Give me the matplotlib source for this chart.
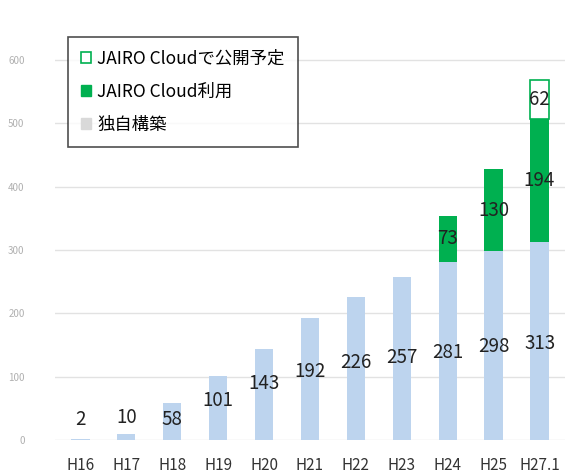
import numpy as np
import matplotlib
matplotlib.use("Agg")
import matplotlib.pyplot as plt
from matplotlib.patches import Patch

plt.rcParams['font.family'] = ['Noto Sans CJK JP', 'DejaVu Sans']

# データ
years = ["H16", "H17", "H18", "H19", "H20", "H21", "H22", "H23", "H24", "H25", "H27.1"]
own_built = [2, 10, 58, 101, 143, 192, 226, 257, 281, 298, 313]
jairo_used = [0, 0, 0, 0, 0, 0, 0, 0, 73, 130, 194]
jairo_planned = [0, 0, 0, 0, 0, 0, 0, 0, 0, 0, 62]
own_label_y = [32, 36, 32, 62, 89, 108, 123, 130, 138, 147, 153]

fig = plt.figure(figsize=(5.74, 4.73), dpi=100)
ax = fig.add_axes([0.096, 0.07, 0.888, 0.91])

x = np.arange(len(years))
w = 0.4
blue = "#bdd4ee"
green = "#00b050"

own = np.array(own_built)
used = np.array(jairo_used)
plan = np.array(jairo_planned)
m_used = used > 0
m_plan = plan > 0

ax.bar(x, own, w, color=blue, zorder=3)
ax.bar(x[m_used], used[m_used], w, bottom=own[m_used], color=green, zorder=3)
ax.bar(x[m_plan], plan[m_plan], w, bottom=(own + used)[m_plan], color="white",
       edgecolor=green, linewidth=1.2, zorder=3)

for i in range(len(x)):
    ax.text(x[i], own_label_y[i], str(own[i]), ha="center", va="center", fontsize=13.5, color="#222222", zorder=4)
    if used[i] > 0:
        ax.text(x[i], own[i] + used[i] / 2, str(used[i]), ha="center", va="center", fontsize=13.5, color="#222222", zorder=4)
    if plan[i] > 0:
        ax.text(x[i], own[i] + used[i] + plan[i] / 2, str(plan[i]), ha="center", va="center", fontsize=13.5, color="#222222", zorder=4)

ax.set_xlim(-0.55, len(x) - 0.45)
ax.set_ylim(0, 680)
ax.set_yticks(range(0, 700, 100))
ax.set_xticks(x)
ax.set_xticklabels(years, fontsize=11, color="#333333")
ax.tick_params(axis="x", length=0, pad=12)
ax.tick_params(axis="y", length=0, pad=22, labelsize=7, labelcolor="#b0b0b0")
ax.grid(axis="y", color="#e2e2e2", linewidth=1, zorder=0)
for s in ax.spines.values():
    s.set_visible(False)

handles = [
    Patch(facecolor="white", edgecolor=green, linewidth=1.2),
    Patch(facecolor=green, edgecolor=green),
    Patch(facecolor="#d9d9d9", edgecolor="#d9d9d9"),
]
labels = ["JAIRO Cloudで公開予定", "JAIRO Cloud利用", "独自構築"]
leg = ax.legend(handles, labels, loc="upper left", bbox_to_anchor=(0.025, 0.936), borderaxespad=0,
                fontsize=12.5, frameon=True, fancybox=False, edgecolor="#222222",
                handlelength=0.6, handleheight=0.6, handletextpad=0.35, labelspacing=0.85, borderpad=0.75)
leg.get_frame().set_linewidth(1.2)

fig.savefig("out.png", dpi=100)
